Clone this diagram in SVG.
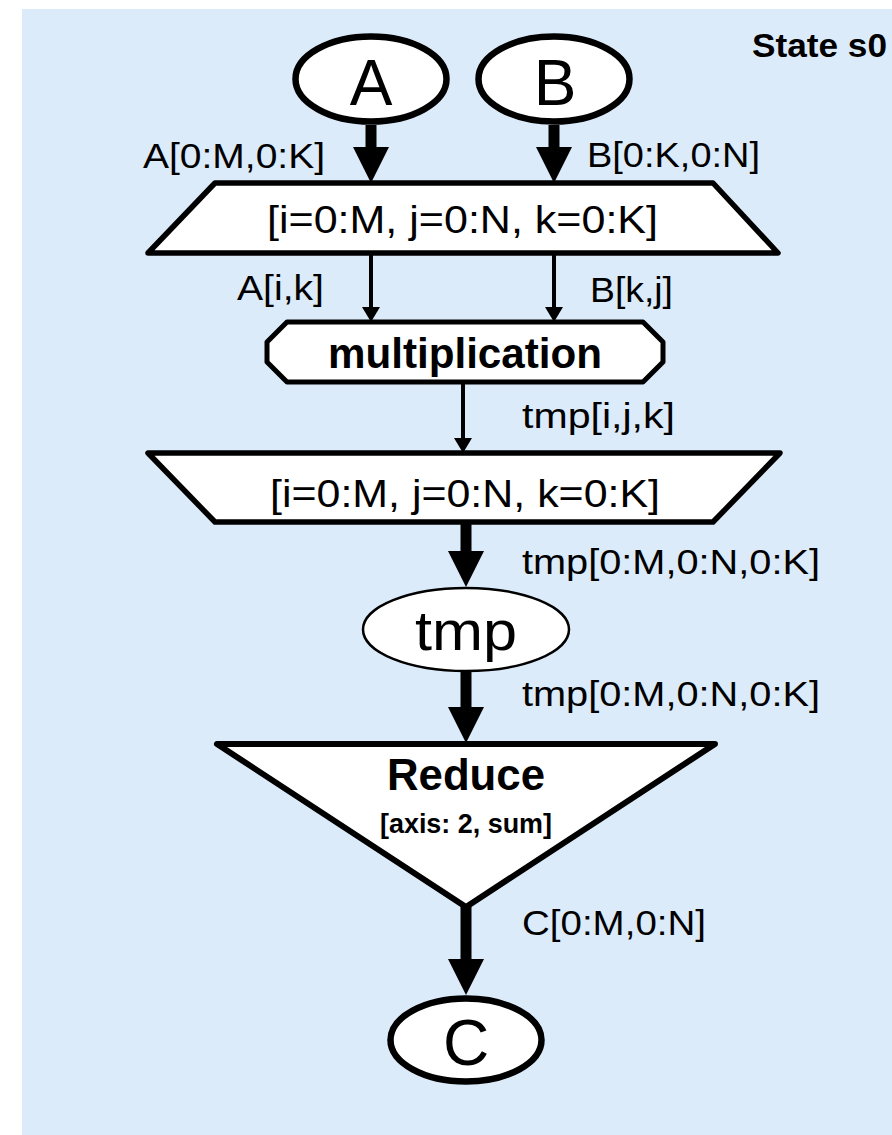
<svg xmlns="http://www.w3.org/2000/svg" width="892" height="1135" viewBox="0 0 892 1135">
  <style>
    .bg { fill: #dcebfa; }
    .node { fill: #ffffff; stroke: #000000; stroke-linejoin: round; }
    .thick { stroke-width: 6.5; }
    .mapst { stroke-width: 5.5; }
    .thin { stroke-width: 2.5; }
    .lbl { font-family: "Liberation Sans", Arial, sans-serif; font-size: 35px; fill: #000; }
    .maptxt { font-family: "Liberation Sans", Arial, sans-serif; font-size: 38px; fill: #000; }
    .big { font-family: "Liberation Sans", Arial, sans-serif; font-size: 64px; fill: #000; text-anchor: middle; }
    .bold { font-family: "Liberation Sans", Arial, sans-serif; font-weight: bold; fill: #000; }
    .edge { stroke: #000; fill: none; stroke-linecap: butt; }
    .e-thick { stroke-width: 11; marker-end: url(#ahThick); }
    .e-thin { stroke-width: 4; marker-end: url(#ahThin); }
  </style>
  <defs>
    <marker id="ahThick" markerUnits="userSpaceOnUse" markerWidth="36" markerHeight="36" viewBox="0 -18 36 36" refX="0" refY="0" orient="auto" overflow="visible">
      <path d="M0,-18 L36,0 L0,18 Z" fill="#000"/>
    </marker>
    <marker id="ahThin" markerUnits="userSpaceOnUse" markerWidth="15" markerHeight="18" viewBox="0 -9 15 18" refX="0" refY="0" orient="auto" overflow="visible">
      <path d="M0,-9 L15,0 L0,9 Z" fill="#000"/>
    </marker>
  </defs>

  <rect class="bg" x="22" y="9" width="870" height="1126"/>
  <text class="bold" x="752" y="57" font-size="33" textLength="135" lengthAdjust="spacingAndGlyphs">State s0</text>

  <g id="connectors">
    <line class="edge e-thick" x1="371" y1="125" x2="371" y2="147"/>
    <line class="edge e-thick" x1="554" y1="125" x2="554" y2="147"/>
    <line class="edge e-thin" x1="371" y1="253" x2="371" y2="307"/>
    <line class="edge e-thin" x1="554" y1="253" x2="554" y2="307"/>
    <line class="edge e-thin" x1="463" y1="382" x2="463" y2="438"/>
    <line class="edge e-thick" x1="466" y1="522" x2="466" y2="551"/>
    <line class="edge e-thick" x1="466" y1="671" x2="466" y2="707"/>
    <line class="edge e-thick" x1="466" y1="905" x2="466" y2="959"/>
    <text class="lbl" x="143" y="168" textLength="182" lengthAdjust="spacingAndGlyphs">A[0:M,0:K]</text>
    <text class="lbl" x="587" y="167" textLength="173" lengthAdjust="spacingAndGlyphs">B[0:K,0:N]</text>
    <text class="lbl" x="237" y="300" textLength="87" lengthAdjust="spacingAndGlyphs">A[i,k]</text>
    <text class="lbl" x="590" y="302" textLength="83" lengthAdjust="spacingAndGlyphs">B[k,j]</text>
    <text class="lbl" x="522" y="428" textLength="153" lengthAdjust="spacingAndGlyphs">tmp[i,j,k]</text>
    <text class="lbl" x="522" y="574" textLength="298" lengthAdjust="spacingAndGlyphs">tmp[0:M,0:N,0:K]</text>
    <text class="lbl" x="522" y="706" textLength="298" lengthAdjust="spacingAndGlyphs">tmp[0:M,0:N,0:K]</text>
    <text class="lbl" x="522" y="935" textLength="184" lengthAdjust="spacingAndGlyphs">C[0:M,0:N]</text>
  </g>

  <g id="node-A">
    <ellipse class="node thick" cx="371" cy="79" rx="75.5" ry="42.5"/>
    <text class="big" x="371" y="105">A</text>
  </g>
  <g id="node-B">
    <ellipse class="node thick" cx="554" cy="79" rx="75.5" ry="42.5"/>
    <text class="big" x="555" y="105">B</text>
  </g>
  <g id="map-entry">
    <polygon class="node mapst" points="215,183 713,183 778,253 148,253"/>
    <text class="maptxt" x="267" y="233" textLength="391" lengthAdjust="spacingAndGlyphs">[i=0:M, j=0:N, k=0:K]</text>
  </g>
  <g id="tasklet-multiplication">
    <polygon class="node" stroke-width="5" points="287,322 643,322 663,342 663,362 643,382 287,382 267,362 267,342"/>
    <text class="bold" x="328" y="368" font-size="42" textLength="274" lengthAdjust="spacingAndGlyphs">multiplication</text>
  </g>
  <g id="map-exit">
    <polygon class="node mapst" points="148,453 780,453 713,522 215,522"/>
    <text class="maptxt" x="270" y="507" textLength="390" lengthAdjust="spacingAndGlyphs">[i=0:M, j=0:N, k=0:K]</text>
  </g>
  <g id="node-tmp">
    <ellipse class="node thin" cx="466" cy="629.5" rx="103" ry="41.5"/>
    <text class="big" x="466" y="650" textLength="102" lengthAdjust="spacingAndGlyphs" style="font-size:56px">tmp</text>
  </g>
  <g id="reduce">
    <polygon class="node" stroke-width="6" points="217,744 715,744 466,907"/>
    <text class="bold" x="387" y="790" font-size="44" textLength="158" lengthAdjust="spacingAndGlyphs">Reduce</text>
    <text class="bold" x="380" y="833" font-size="27" textLength="172" lengthAdjust="spacingAndGlyphs">[axis: 2, sum]</text>
  </g>
  <g id="node-C">
    <ellipse class="node thick" cx="466" cy="1040" rx="75.5" ry="41.5"/>
    <text class="big" x="466" y="1065">C</text>
  </g>
</svg>
